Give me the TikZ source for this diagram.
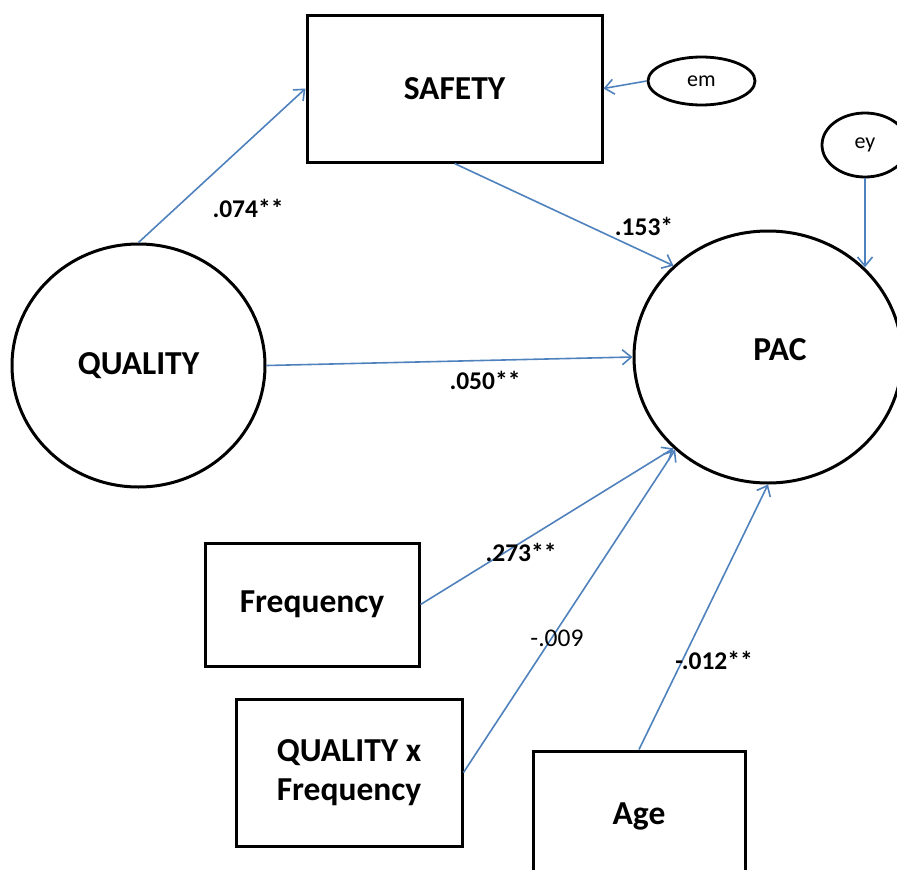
\documentclass[tikz,border=0pt]{standalone}
\usepackage{fontspec}
\setmainfont{Carlito}
\usetikzlibrary{shapes.geometric,arrows.meta}
\definecolor{arrowblue}{HTML}{4F81BD}
\tikzset{
  boxnode/.style={draw=black, line width=3pt, rectangle, inner sep=0pt, font=\fontsize{33.5}{38.5}\selectfont\bfseries, align=center},
  latent/.style={draw=black, line width=3pt, ellipse, inner sep=0pt, font=\fontsize{33.5}{38.5}\selectfont\bfseries},
  errnode/.style={draw=black, line width=2.8pt, ellipse, inner sep=0pt, font=\fontsize{22}{26}\selectfont},
  path/.style={draw=arrowblue, line width=1.6pt, -{Straight Barb[length=9pt,width=15pt,line width=1.6pt]}},
  coef/.style={font=\fontsize{25.5}{30}\selectfont\bfseries, inner sep=0pt},
  coefplain/.style={font=\fontsize{25.5}{30}\selectfont, inner sep=0pt},
  bigtext/.style={font=\fontsize{33.5}{38.5}\selectfont\bfseries, inner sep=0pt}
}
\begin{document}
\begin{tikzpicture}[x=1pt,y=-1pt]
\useasboundingbox (0,0) rectangle (897,870);
% nodes
\node[boxnode, minimum width=295pt, minimum height=147pt] (safety) at (454.5,88.5) {SAFETY};
\node[errnode, minimum width=107pt, minimum height=48pt] (em) at (701.5,81) {em};
\node[errnode, minimum width=86pt, minimum height=64pt] (ey) at (865,145) {ey};
\node[latent, minimum width=253pt, minimum height=243pt] (quality) at (138.5,365.5) {QUALITY};
\node[latent, minimum width=268pt, minimum height=252pt] (pac) at (768,357) {};
\node[bigtext] (pactext) at (780,350) {PAC};
\node[boxnode, minimum width=214pt, minimum height=123pt] (freq) at (312,604.5) {Frequency};
\node[boxnode, minimum width=226pt, minimum height=147pt] (qxf) at (349,772.5) {QUALITY x\\Frequency};
\node[boxnode, minimum width=212pt, minimum height=130pt] (age) at (639,816) {Age};
% paths
\draw[path] (quality.north) -- (safety.west);
\draw[path] (safety.south) -- (pac.136.5);
\draw[path] (quality.east) -- (pac.west);
\draw[path] (em.west) -- (safety.east);
\draw[path] (ey.south) -- (ey.south |- pac.43);
\draw[path] (freq.east) -- (pac.224);
\draw[path] (qxf.east) -- (pac.225);
\draw[path] (age.north) -- (pac.south);
% coefficients
\node[coef] (c1) at (248,208) {.074**};
\node[coef] (c2) at (644,226) {.153*};
\node[coef] (c3) at (485,380) {.050**};
\node[coef] (c4) at (521,552) {.273**};
\node[coefplain] (c5) at (557,638) {-.009};
\node[coef] (c6) at (714,660) {-.012**};
\end{tikzpicture}
\end{document}
